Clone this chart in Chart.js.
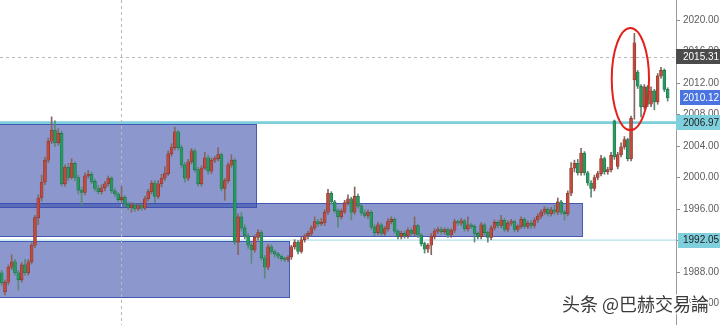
<!DOCTYPE html>
<html>
<head>
<meta charset="utf-8">
<title>XAUUSD</title>
<script src="https://cdn.jsdelivr.net/npm/chart.js@4.4.1/dist/chart.umd.min.js"></script>
<style>
  html, body { margin: 0; padding: 0; background: #ffffff; }
  #wrap { position: relative; width: 720px; height: 325px; }
</style>
</head>
<body>
<div id="wrap"><canvas id="chart"></canvas></div>
<script>
// Candle prices, oldest first
const openPrices = [
  1987.9, 1985.5, 1986.7, 1988.6, 1989.3, 1987.9, 1987.0, 1988.9, 1987.9, 1989.3,
  1991.4, 1994.9, 1997.4, 1999.4, 2002.2, 2004.6, 2006.0, 2004.4, 2005.6, 1999.2,
  2001.3, 2000.0, 2001.8, 2000.0, 1998.4, 1998.1, 2000.2, 2000.4, 1999.5, 1998.6,
  1998.2, 1998.7, 1999.2, 1999.9, 1998.3, 1997.9, 1997.2, 1997.5, 1996.6, 1996.2,
  1996.5, 1996.0, 1996.4, 1996.1, 1997.3, 1998.2, 1999.3, 1997.6, 1999.2, 1999.9,
  2000.5, 2003.0, 2003.8, 2005.8, 2003.8, 2001.6, 1999.9, 2002.0, 2003.4, 2001.0,
  1999.2, 2001.2, 2002.5, 2000.8, 2002.2, 2002.4, 2002.9, 1998.6, 1999.6, 2001.6,
  2002.2, 1991.8, 1995.0, 1993.6, 1992.6, 1991.4, 1990.8, 1992.4, 1993.0, 1989.8,
  1988.6, 1991.2, 1990.6, 1990.3, 1990.0, 1989.7, 1989.6, 1989.9, 1991.2, 1991.8,
  1990.6, 1992.1, 1992.6, 1992.9, 1993.6, 1994.4, 1994.1, 1994.3, 1995.6, 1998.0,
  1996.9, 1995.8, 1995.0, 1995.7, 1996.8, 1997.3, 1995.6, 1997.6, 1996.4, 1995.5,
  1995.2, 1995.6, 1993.7, 1993.0, 1994.0, 1992.9, 1993.5, 1994.4, 1994.7, 1993.2,
  1992.5, 1992.9, 1992.6, 1993.3, 1992.9, 1993.9, 1992.7, 1991.6, 1990.9, 1991.4,
  1992.5, 1993.2, 1993.4, 1993.1, 1993.4, 1992.7, 1993.3, 1994.4, 1994.2, 1994.5,
  1993.5, 1994.0, 1993.8, 1992.9, 1992.5, 1994.0, 1993.0, 1992.4, 1993.6, 1994.3,
  1993.9, 1994.6, 1993.4, 1994.2, 1994.4, 1993.4, 1993.8, 1994.7, 1993.8, 1994.2,
  1993.9, 1994.6, 1995.1, 1995.6, 1996.0, 1995.4, 1995.9, 1995.6, 1996.9, 1995.6,
  1995.4, 1998.0, 2001.2, 2001.8, 2000.6, 2003.1, 2000.6, 1999.3, 1998.6, 2000.0,
  2000.5, 2002.4, 2000.7, 2001.0, 2007.2, 2001.4, 2002.9, 2003.9, 2004.8, 2002.4,
  2012.4, 2013.4, 2011.6, 2009.0, 2011.5, 2009.3, 2011.0, 2009.6, 2012.9, 2013.6,
  2011.2
];
const highPrices = [
  1988.2, 1987.0, 1988.9, 1990.2, 1989.6, 1988.2, 1989.2, 1989.6, 1989.6, 1991.7,
  1995.2, 1997.8, 2000.3, 2002.6, 2005.0, 2007.7, 2007.2, 2006.2, 2005.9, 2001.6,
  2001.8, 2002.4, 2002.0, 2000.3, 1998.8, 2000.6, 2000.9, 2000.7, 1999.8, 1999.0,
  1999.1, 1999.5, 2000.2, 2000.1, 1998.6, 1998.1, 1998.9, 1997.7, 1996.9, 1996.8,
  1996.7, 1996.7, 1996.6, 1997.6, 1998.5, 1999.6, 1999.6, 1999.6, 2000.4, 2001.4,
  2003.4, 2004.3, 2006.4, 2006.0, 2004.1, 2001.9, 2002.3, 2003.7, 2003.6, 2001.3,
  2001.5, 2003.2, 2002.8, 2002.5, 2002.7, 2003.8, 2003.1, 1999.9, 2001.9, 2002.9,
  2002.4, 1995.4, 1995.6, 1994.0, 1992.9, 1991.7, 1992.7, 1993.4, 1993.3, 1990.1,
  1991.5, 1991.5, 1990.8, 1990.5, 1990.2, 1989.9, 1990.1, 1991.4, 1992.1, 1992.0,
  1992.4, 1992.8, 1993.2, 1993.9, 1995.0, 1994.7, 1994.8, 1995.9, 1998.5, 1998.2,
  1997.1, 1996.0, 1996.0, 1997.1, 1997.8, 1997.5, 1998.8, 1997.9, 1996.6, 1995.9,
  1995.9, 1995.8, 1994.0, 1994.3, 1994.2, 1993.8, 1994.8, 1995.0, 1994.9, 1993.4,
  1993.2, 1993.2, 1993.6, 1993.6, 1995.0, 1994.1, 1992.9, 1991.8, 1991.6, 1992.9,
  1993.5, 1993.7, 1993.7, 1993.6, 1993.6, 1993.5, 1994.7, 1994.6, 1994.8, 1994.7,
  1995.0, 1994.2, 1994.0, 1993.1, 1994.3, 1994.2, 1993.2, 1993.9, 1994.6, 1994.5,
  1995.2, 1994.8, 1994.5, 1994.7, 1994.6, 1994.0, 1995.0, 1994.9, 1994.5, 1994.5,
  1994.9, 1995.4, 1995.9, 1996.3, 1996.2, 1996.2, 1996.5, 1997.4, 1997.1, 1995.8,
  1998.3, 2001.9, 2002.2, 2002.3, 2003.7, 2003.3, 2000.8, 1999.6, 2000.3, 2000.8,
  2002.8, 2002.6, 2001.3, 2003.2, 2007.3, 2003.2, 2004.4, 2005.2, 2005.0, 2007.8,
  2018.3, 2013.6, 2011.8, 2011.8, 2011.7, 2011.5, 2011.2, 2013.2, 2014.0, 2013.8,
  2011.4
];
const lowPrices = [
  1986.3, 1985.1, 1986.4, 1988.3, 1987.6, 1985.7, 1986.7, 1987.6, 1987.6, 1989.0,
  1991.1, 1994.0, 1997.0, 1999.1, 2001.9, 2004.3, 2003.9, 2004.1, 1998.9, 1998.9,
  1999.6, 1999.8, 1999.6, 1997.9, 1996.5, 1997.8, 1999.9, 1999.2, 1998.3, 1997.9,
  1997.9, 1998.3, 1998.9, 1998.0, 1997.6, 1996.9, 1996.9, 1996.3, 1995.9, 1995.6,
  1995.7, 1995.8, 1995.8, 1995.9, 1997.0, 1997.9, 1996.8, 1997.3, 1998.8, 1999.6,
  2000.2, 2002.7, 2003.5, 2003.5, 2001.2, 1999.4, 1999.6, 2001.7, 2000.7, 1998.9,
  1998.9, 2001.0, 2000.4, 2000.5, 2001.9, 2002.1, 1998.3, 1997.1, 1999.3, 2001.3,
  1991.5, 1990.2, 1993.2, 1992.2, 1991.0, 1989.1, 1990.5, 1992.0, 1989.5, 1987.2,
  1988.3, 1990.3, 1989.9, 1989.7, 1989.4, 1989.3, 1989.3, 1989.6, 1990.9, 1990.3,
  1990.4, 1991.8, 1992.2, 1992.6, 1993.3, 1993.8, 1993.9, 1993.9, 1995.3, 1996.6,
  1995.5, 1993.7, 1994.7, 1995.4, 1996.5, 1994.6, 1995.3, 1996.1, 1995.2, 1994.9,
  1994.8, 1993.4, 1992.6, 1992.7, 1992.6, 1992.6, 1993.2, 1994.1, 1992.9, 1992.2,
  1992.2, 1992.3, 1992.3, 1992.6, 1992.6, 1992.4, 1991.3, 1990.4, 1990.5, 1990.2,
  1992.2, 1992.9, 1992.8, 1992.8, 1992.4, 1992.4, 1993.0, 1993.9, 1993.9, 1993.2,
  1993.2, 1993.5, 1991.8, 1992.2, 1992.2, 1992.7, 1991.8, 1992.1, 1993.3, 1993.6,
  1993.6, 1993.1, 1993.1, 1993.9, 1993.1, 1993.1, 1993.5, 1993.5, 1993.5, 1993.5,
  1993.6, 1994.3, 1994.8, 1995.3, 1995.1, 1995.1, 1995.3, 1995.3, 1995.3, 1994.6,
  1995.1, 1997.7, 2000.7, 2000.3, 2000.3, 2000.3, 1999.0, 1997.5, 1998.3, 1999.7,
  2000.2, 2000.4, 2000.4, 2000.7, 2002.3, 2001.1, 2002.6, 2003.6, 2002.1, 2002.1,
  2007.4, 2011.3, 2007.7, 2008.7, 2009.0, 2009.0, 2008.6, 2009.3, 2012.6, 2010.9,
  2009.7
];
const closePrices = [
  1986.6, 1986.7, 1988.6, 1989.3, 1987.9, 1987.0, 1988.9, 1987.9, 1989.3, 1991.4,
  1994.9, 1997.4, 1999.4, 2002.2, 2004.6, 2006.0, 2004.4, 2005.6, 1999.2, 2001.3,
  2000.0, 2001.8, 2000.0, 1998.4, 1998.1, 2000.2, 2000.4, 1999.5, 1998.6, 1998.2,
  1998.7, 1999.2, 1999.9, 1998.3, 1997.9, 1997.2, 1997.5, 1996.6, 1996.2, 1996.5,
  1996.0, 1996.4, 1996.1, 1997.3, 1998.2, 1999.3, 1997.6, 1999.2, 1999.9, 2000.5,
  2003.0, 2003.8, 2005.8, 2003.8, 2001.6, 1999.9, 2002.0, 2003.4, 2001.0, 1999.2,
  2001.2, 2002.5, 2000.8, 2002.2, 2002.4, 2002.9, 1998.6, 1999.6, 2001.6, 2002.2,
  1991.8, 1995.0, 1993.6, 1992.6, 1991.4, 1990.8, 1992.4, 1993.0, 1989.8, 1988.6,
  1991.2, 1990.6, 1990.3, 1990.0, 1989.7, 1989.6, 1989.9, 1991.2, 1991.8, 1990.6,
  1992.1, 1992.6, 1992.9, 1993.6, 1994.4, 1994.1, 1994.3, 1995.6, 1998.0, 1996.9,
  1995.8, 1995.0, 1995.7, 1996.8, 1997.3, 1995.6, 1997.6, 1996.4, 1995.5, 1995.2,
  1995.6, 1993.7, 1993.0, 1994.0, 1992.9, 1993.5, 1994.4, 1994.7, 1993.2, 1992.5,
  1992.9, 1992.6, 1993.3, 1992.9, 1993.9, 1992.7, 1991.6, 1990.9, 1991.4, 1992.5,
  1993.2, 1993.4, 1993.1, 1993.4, 1992.7, 1993.3, 1994.4, 1994.2, 1994.5, 1993.5,
  1994.0, 1993.8, 1992.9, 1992.5, 1994.0, 1993.0, 1992.4, 1993.6, 1994.3, 1993.9,
  1994.6, 1993.4, 1994.2, 1994.4, 1993.4, 1993.8, 1994.7, 1993.8, 1994.2, 1993.9,
  1994.6, 1995.1, 1995.6, 1996.0, 1995.4, 1995.9, 1995.6, 1996.9, 1995.6, 1995.4,
  1998.0, 2001.2, 2001.8, 2000.6, 2003.1, 2000.6, 1999.3, 1998.6, 2000.0, 2000.5,
  2002.4, 2000.7, 2001.0, 2002.8, 2002.6, 2002.9, 2003.9, 2004.8, 2002.4, 2007.5,
  2017.1, 2011.6, 2009.0, 2011.5, 2009.3, 2011.0, 2009.6, 2012.9, 2013.6, 2011.2,
  2010.12
];

// Price axis
const priceTicks = [1984, 1988, 1992, 1996, 2000, 2004, 2008, 2012, 2016, 2020];
const priceMin = 1981.27;
const priceMax = 2022.54;

// Consolidation zones (candle index range, price range)
const zoneStart = [-1, -1, -1];
const zoneEnd = [76.7, 174.6, 86.6];
const zoneHigh = [2006.8, 1996.7, 1992.0];
const zoneLow = [1996.19, 1992.4, 1984.7];

// Horizontal levels
const levelPrices = [2006.97, 1992.05];

// Cursor position
const cursorIndex = 35.8;
const cursorPrice = 2015.31;

// Highlight ring around the spike
const ringIndex = 188.8;
const ringPrice = 2012.5;
const ringHalfWidth = 5.6;
const ringHalfHeight = 6.5;

const candleLabels = openPrices.map((_, i) => 'K' + (i + 1)).concat(['', '']);

const isUp = openPrices.map((o, i) => closePrices[i] >= o);

const overlayPlugin = {
  id: 'overlay',
  beforeDatasetsDraw(chart) {
    const { ctx, chartArea: a, scales: { x, y } } = chart;
    ctx.save();
    ctx.beginPath();
    ctx.rect(a.left, a.top, a.right - a.left, a.bottom - a.top);
    ctx.clip();
    for (let k = 0; k < zoneStart.length; k++) {
      const x0 = Math.round(x.getPixelForValue(zoneStart[k]));
      const x1 = Math.round(x.getPixelForValue(zoneEnd[k]));
      const y0 = Math.round(y.getPixelForValue(zoneHigh[k]));
      const y1 = Math.round(y.getPixelForValue(zoneLow[k]));
      ctx.fillStyle = 'rgba(56, 78, 168, 0.58)';
      ctx.fillRect(x0, y0, x1 - x0, y1 - y0);
      ctx.strokeStyle = 'rgba(55, 78, 176, 0.85)';
      ctx.lineWidth = 1;
      ctx.strokeRect(x0 + 0.5, y0 + 0.5, x1 - x0 - 1, y1 - y0 - 1);
    }
    levelPrices.forEach((p, k) => {
      const py = y.getPixelForValue(p);
      ctx.strokeStyle = k === 0 ? '#7dcedb' : '#b2e2ea';
      ctx.lineWidth = k === 0 ? 2.6 : 1.4;
      ctx.beginPath();
      ctx.moveTo(a.left, py);
      ctx.lineTo(a.right, py);
      ctx.stroke();
    });
    ctx.setLineDash([3, 3]);
    ctx.strokeStyle = '#b8b8b8';
    ctx.lineWidth = 1;
    const cx = Math.round(x.getPixelForValue(cursorIndex)) + 0.5;
    ctx.beginPath();
    ctx.moveTo(cx, a.top);
    ctx.lineTo(cx, a.bottom);
    ctx.stroke();
    const cy = Math.round(y.getPixelForValue(cursorPrice)) + 0.5;
    ctx.beginPath();
    ctx.moveTo(a.left, cy);
    ctx.lineTo(a.right, cy);
    ctx.stroke();
    ctx.restore();
  },
  afterDatasetsDraw(chart) {
    const { ctx, scales: { x, y } } = chart;
    const cx = x.getPixelForValue(ringIndex);
    const cy = y.getPixelForValue(ringPrice);
    const rx = Math.abs(x.getPixelForValue(ringIndex + ringHalfWidth) - cx);
    const ry = Math.abs(y.getPixelForValue(ringPrice + ringHalfHeight) - cy);
    ctx.save();
    ctx.strokeStyle = '#e3211c';
    ctx.lineWidth = 2;
    ctx.beginPath();
    ctx.ellipse(cx, cy, rx, ry, 0, 0, Math.PI * 2);
    ctx.stroke();
    ctx.restore();
  },
  afterDraw(chart) {
    const { ctx, chartArea: a, scales: { y } } = chart;
    const W = chart.width;
    const tag = (price, bg, fg, left) => {
      const py = y.getPixelForValue(price);
      const h = 15;
      ctx.fillStyle = bg;
      ctx.fillRect(left, Math.round(py - h / 2), W - left, h);
      ctx.fillStyle = fg;
      ctx.font = '10px "Liberation Sans", Arial, sans-serif';
      ctx.textAlign = 'left';
      ctx.textBaseline = 'middle';
      ctx.fillText(price.toFixed(2), a.right + 7, py + 0.5);
    };
    ctx.save();
    tag(cursorPrice, '#4b4b4b', '#ffffff', a.right);
    tag(closePrices[closePrices.length - 1], '#4a74e0', '#ffffff', a.right + 4);
    tag(levelPrices[0], '#80cfdc', '#1c1c1c', a.right);
    tag(levelPrices[1], '#80cfdc', '#1c1c1c', a.right + 2);

    ctx.font = '18px "Noto Sans CJK SC", sans-serif';
    ctx.textAlign = 'left';
    ctx.textBaseline = 'middle';
    ctx.lineJoin = 'round';
    ctx.lineWidth = 3;
    ctx.strokeStyle = 'rgba(255,255,255,0.95)';
    ctx.strokeText('头条 @巴赫交易論', 562, 304);
    ctx.fillStyle = '#3a3a3a';
    ctx.fillText('头条 @巴赫交易論', 562, 304);
    ctx.restore();
  }
};

new Chart(document.getElementById('chart'), {
  type: 'bar',
  data: {
    labels: candleLabels,
    datasets: [
      {
        label: 'wick',
        data: lowPrices.map((l, i) => [l, highPrices[i]]),
        backgroundColor: isUp.map(u => u ? '#86665e' : '#5a8a78'),
        barThickness: 1,
        grouped: false,
        order: 2
      },
      {
        label: 'body',
        data: openPrices.map((o, i) => [o, closePrices[i]]),
        backgroundColor: isUp.map(u => u ? '#bf4a3d' : '#27995f'),
        borderColor: isUp.map(u => u ? '#84352b' : '#1d6f4a'),
        borderWidth: 0.6,
        borderSkipped: false,
        barThickness: 3,
        minBarLength: 1,
        grouped: false,
        order: 1
      }
    ]
  },
  options: {
    responsive: true,
    maintainAspectRatio: false,
    animation: false,
    layout: { padding: 0 },
    plugins: { legend: { display: false }, tooltip: { enabled: false } },
    scales: {
      x: { display: false, offset: true },
      y: {
        position: 'right',
        min: priceMin,
        max: priceMax,
        afterBuildTicks: s => { s.ticks = priceTicks.map(v => ({ value: v })); },
        afterFit: s => { s.width = 44; s.paddingTop = 0; s.paddingBottom = 0; },
        ticks: {
          callback: v => Number(v).toFixed(2),
          color: '#5c5c5c',
          padding: 3,
          font: { family: '"Liberation Sans", Arial, sans-serif', size: 10 }
        },
        grid: { drawOnChartArea: false, drawTicks: true, tickLength: 4, color: '#8f8f8f' },
        border: { display: true, color: '#9a9a9a' }
      }
    }
  },
  plugins: [overlayPlugin]
});
</script>
</body>
</html>
